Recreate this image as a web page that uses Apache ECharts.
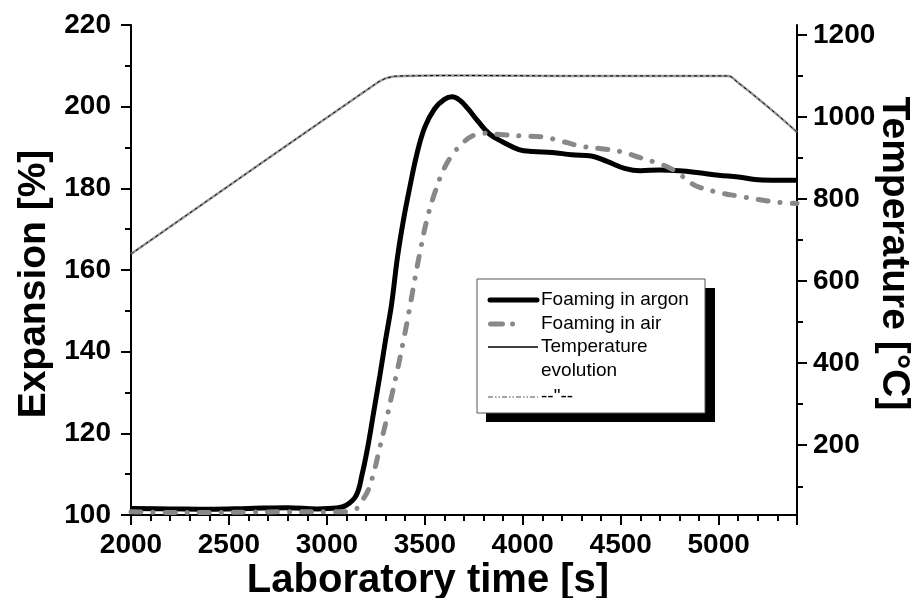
<!DOCTYPE html>
<html>
<head>
<meta charset="utf-8">
<script src="https://cdn.jsdelivr.net/npm/echarts@6/dist/echarts.min.js"></script>
<style>
  html, body { margin: 0; padding: 0; background: #fff; }
  #chart { width: 919px; height: 598px; }
</style>
</head>
<body>
<div id="chart"></div>
<script>
// foaming in argon (expansion %)
const argonTime = [2000, 2200, 2400, 2600, 2800, 2950, 3050, 3100, 3150, 3180, 3210, 3240, 3270, 3300, 3330, 3360, 3390, 3420, 3460, 3500, 3550, 3600, 3640, 3680, 3720, 3770, 3830, 3900, 3980, 4050, 4150, 4250, 4350, 4430, 4520, 4600, 4700, 4800, 4900, 5000, 5100, 5200, 5300, 5400]
const argonExp = [101.6, 101.5, 101.4, 101.6, 101.8, 101.5, 101.7, 102.4, 104.8, 110, 117, 125.5, 134, 143, 151.5, 163, 172, 179.5, 188.5, 195, 199.5, 201.8, 202.4, 201.5, 199.5, 196.5, 193.3, 191.3, 189.5, 189, 188.8, 188.2, 187.9, 186.6, 184.9, 184.3, 184.5, 184.3, 183.8, 183.2, 182.8, 182.1, 182.0, 182.0]

// foaming in air (expansion %)
const airTime = [2000, 2200, 2400, 2600, 2800, 3000, 3100, 3150, 3180, 3210, 3240, 3270, 3300, 3330, 3360, 3390, 3420, 3450, 3480, 3510, 3550, 3600, 3650, 3700, 3750, 3800, 3900, 4000, 4100, 4200, 4300, 4400, 4500, 4600, 4700, 4750, 4800, 4850, 4900, 5000, 5100, 5200, 5300, 5400]
const airExp = [100.8, 100.6, 100.6, 100.7, 100.8, 100.8, 100.8, 101.5, 103.5, 106, 110.5, 116.5, 122.5, 129, 135.5, 142.5, 150, 158, 165.5, 172.2, 178.8, 185, 188.8, 191.4, 193.0, 193.5, 193.1, 192.8, 192.6, 191.5, 190.3, 189.7, 189.0, 187.5, 186.0, 185.0, 183.5, 181.6, 180.3, 179.0, 178.1, 177.3, 176.6, 176.3]

// furnace temperature (°C)
const tempTime = [2000, 3250, 3300, 3350, 3400, 3700, 4200, 4700, 5050, 5100, 5200, 5300, 5400]
const tempC = [666, 1081, 1094, 1099, 1100, 1101, 1100, 1100, 1100, 1083, 1045, 1005, 963]

const tempMajor = [200, 400, 600, 800, 1000, 1200]
const tempMinor = [100, 300, 500, 700, 900, 1100]

const pairs = (xs, ys) => xs.map((x, i) => [x, ys[i]])

const FONT = '"Liberation Sans", Arial, sans-serif'
const axisLineStyle = { color: '#000', width: 2 }
const plain = v => String(v)

const chart = echarts.init(document.getElementById('chart'), null, { renderer: 'canvas' })

const option = {
  animation: false,
  backgroundColor: '#fff',
  grid: { left: 131, right: 122, top: 25, bottom: 83, outerBoundsMode: 'none', containLabel: false },
  xAxis: {
    type: 'value',
    min: 2000,
    max: 5400,
    interval: 500,
    name: 'Laboratory time [s]',
    nameLocation: 'middle',
    nameGap: 46,
    nameMoveOverlap: false,
    nameTextStyle: { fontFamily: FONT, fontSize: 40, fontWeight: 'bold', color: '#000', padding: [0, 72, 0, 0] },
    axisLine: { lineStyle: axisLineStyle },
    axisTick: { length: 10, lineStyle: axisLineStyle },
    minorTick: { show: true, splitNumber: 5, length: 6, lineStyle: axisLineStyle },
    axisLabel: { fontFamily: FONT, fontSize: 28, fontWeight: 'bold', color: '#000', margin: 16, showMaxLabel: false, formatter: plain },
    splitLine: { show: false }
  },
  yAxis: [
    {
      type: 'value',
      min: 100,
      max: 220,
      interval: 20,
      name: 'Expansion [%]',
      nameLocation: 'middle',
      nameGap: 77,
      nameMoveOverlap: false,
      nameTextStyle: { fontFamily: FONT, fontSize: 39, fontWeight: 'bold', color: '#000', padding: [0, 28, 0, 0] },
      axisLine: { show: true, lineStyle: axisLineStyle },
      axisTick: { length: 10, lineStyle: axisLineStyle },
      minorTick: { show: true, splitNumber: 2, length: 6, lineStyle: axisLineStyle },
      axisLabel: { fontFamily: FONT, fontSize: 28, fontWeight: 'bold', color: '#000', margin: 20, formatter: plain },
      splitLine: { show: false }
    },
    {
      type: 'value',
      position: 'right',
      min: 30,
      max: 1224,
      name: 'Temperature [°C]',
      nameLocation: 'middle',
      nameRotate: -90,
      nameGap: 77,
      nameMoveOverlap: false,
      nameTextStyle: { fontFamily: FONT, fontSize: 39, fontWeight: 'bold', color: '#000', padding: [0, 33, 0, 0] },
      axisLine: { show: true, lineStyle: axisLineStyle },
      axisTick: { length: 10, lineStyle: axisLineStyle, customValues: tempMajor },
      axisLabel: { fontFamily: FONT, fontSize: 28, fontWeight: 'bold', color: '#000', margin: 16, customValues: tempMajor, formatter: plain },
      splitLine: { show: false }
    },
    {
      // minor ticks of the temperature axis
      type: 'value',
      position: 'right',
      min: 30,
      max: 1224,
      axisLine: { show: false },
      axisTick: { length: 6, lineStyle: axisLineStyle, customValues: tempMinor },
      axisLabel: { show: false },
      splitLine: { show: false }
    }
  ],
  series: [
    {
      name: '--"--',
      type: 'line',
      yAxisIndex: 1,
      showSymbol: false,
      smooth: 0.3,
      data: pairs(tempTime, tempC),
      lineStyle: { color: '#9a9a9a', width: 2.5 },
      z: 2
    },
    {
      name: 'Temperature evolution',
      type: 'line',
      yAxisIndex: 1,
      showSymbol: false,
      smooth: 0.3,
      data: pairs(tempTime, tempC),
      lineStyle: { color: '#000', width: 1, type: [3, 3] },
      z: 3
    },
    {
      name: 'Foaming in argon',
      type: 'line',
      showSymbol: false,
      smooth: 0.4,
      data: pairs(argonTime, argonExp),
      lineStyle: { color: '#000', width: 5 },
      z: 4
    },
    {
      name: 'Foaming in air',
      type: 'line',
      showSymbol: false,
      smooth: 0.4,
      data: pairs(airTime, airExp),
      lineStyle: { color: '#888', width: 5, type: [10, 12, 0.1, 12], cap: 'round' },
      z: 5
    }
  ],
  graphic: [
    { type: 'rect', z: 100, shape: { x: 486, y: 288, width: 229, height: 134 }, style: { fill: '#000' } },
    { type: 'rect', z: 101, shape: { x: 477, y: 279, width: 228, height: 134 }, style: { fill: '#fff', stroke: '#555', lineWidth: 1 } },
    { type: 'line', z: 102, shape: { x1: 490, y1: 300, x2: 537, y2: 300 }, style: { stroke: '#000', lineWidth: 5, lineCap: 'round' } },
    { type: 'line', z: 102, shape: { x1: 490.5, y1: 324, x2: 515, y2: 324 }, style: { stroke: '#888', lineWidth: 5, lineCap: 'round', lineDash: [12, 10, 0.1, 100] } },
    { type: 'line', z: 102, shape: { x1: 488, y1: 347, x2: 538, y2: 347 }, style: { stroke: '#000', lineWidth: 1.5 } },
    { type: 'line', z: 102, shape: { x1: 488, y1: 397, x2: 538, y2: 397 }, style: { stroke: '#888', lineWidth: 1.5, lineDash: [5, 2, 1.5, 2, 1.5, 2] } },
    { type: 'text', z: 102, style: { x: 541, y: 300, text: 'Foaming in argon', fill: '#000', font: '19px ' + FONT, verticalAlign: 'middle' } },
    { type: 'text', z: 102, style: { x: 541, y: 324, text: 'Foaming in air', fill: '#000', font: '19px ' + FONT, verticalAlign: 'middle' } },
    { type: 'text', z: 102, style: { x: 541, y: 347, text: 'Temperature', fill: '#000', font: '19px ' + FONT, verticalAlign: 'middle' } },
    { type: 'text', z: 102, style: { x: 541, y: 371, text: 'evolution', fill: '#000', font: '19px ' + FONT, verticalAlign: 'middle' } },
    { type: 'text', z: 102, style: { x: 541, y: 397, text: '--"--', fill: '#000', font: '19px ' + FONT, verticalAlign: 'middle' } }
  ]
}

chart.setOption(option)
</script>
</body>
</html>
